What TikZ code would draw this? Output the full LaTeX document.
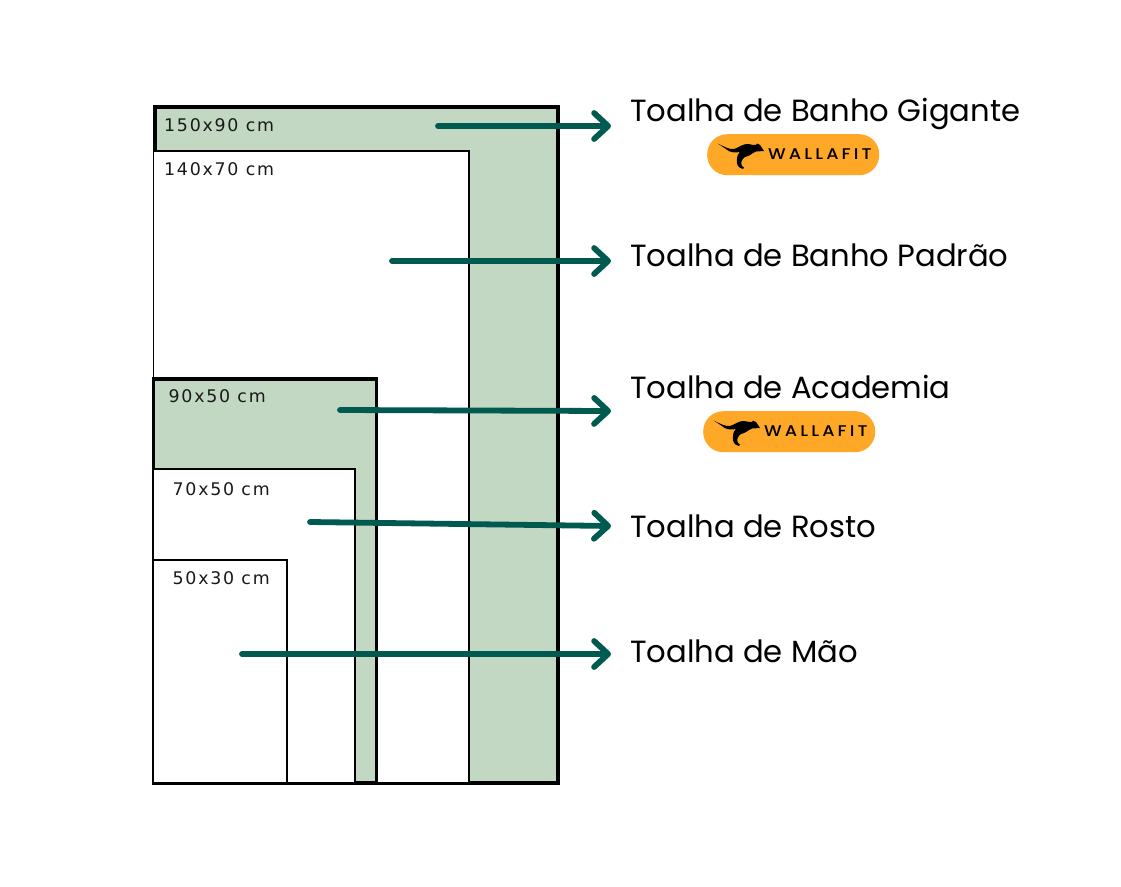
\documentclass[tikz,border=0pt]{standalone}
\usepackage{fontspec}
\setmainfont{Poppins}
\newfontfamily\logofont[LetterSpace=20,FakeStretch=1.14]{Poppins Medium}
\newfontfamily\sizefont[LetterSpace=10]{DejaVu Sans}
\usetikzlibrary{arrows.meta, positioning}

\definecolor{towelgreen}{HTML}{C2D8C2}
\definecolor{arrowteal}{HTML}{005A50}
\definecolor{pillorange}{HTML}{FFA726}

\tikzset{
    towel/.style={draw=black,fill=white,line width=1.9pt,minimum width=#1,inner sep=0pt,outer sep=0pt,anchor=south west},
    heavy/.style={fill=towelgreen,line width=3.6pt},
    sizelabel/.style={font=\sizefont\fontsize{17.4}{20}\selectfont,inner sep=0pt,anchor=base west,text=black!90},
    namelabel/.style={font=\fontsize{30.65}{34}\selectfont,inner sep=0pt,anchor=base west},
    pointer/.style={draw=arrowteal,line width=5.8pt,line cap=round,-{Straight Barb[round,length=14pt,width=26pt]}},
    pill/.style={fill=pillorange,rounded corners=20pt,minimum width=172pt,minimum height=41pt,inner sep=0pt,anchor=north west}
}

\begin{document}
\begin{tikzpicture}[x=1pt,y=-1pt]
    \useasboundingbox (0,0) rectangle (1121,886);

    % towels, largest first
    \node[towel=403pt,heavy,minimum height=676pt] (giant) at (155,783) {};
    \node[towel=315.5pt,minimum height=632pt] (standard) at (153.5,783) {};
    \node[towel=223pt,heavy,minimum height=404pt] (gym) at (153.5,783) {};
    \node[towel=201.5pt,minimum height=314pt] (face) at (153.5,783) {};
    \node[towel=133.5pt,minimum height=223pt] (hand) at (153.5,783) {};

    \node[sizelabel] (giantsize) at (164,131) {150x90 cm};
    \node[sizelabel] (standardsize) at (164,175.5) {140x70 cm};
    \node[sizelabel] (gymsize) at (168.5,402.5) {90x50 cm};
    \node[sizelabel] (facesize) at (172.5,495.5) {70x50 cm};
    \node[sizelabel] (handsize) at (172.5,584.5) {50x30 cm};

    \node[namelabel] (giantname) at (630,121) {Toalha de Banho Gigante};
    \node[namelabel] (standardname) at (630,266) {Toalha de Banho Padrão};
    \node[namelabel] (gymname) at (630,398) {Toalha de Academia};
    \node[namelabel] (facename) at (630,537) {Toalha de Rosto};
    \node[namelabel] (handname) at (630,662) {Toalha de Mão};

    % arrow ends
    \coordinate (giantfrom) at (438,126);
    \coordinate (giantto) at (611,126);
    \coordinate (standardfrom) at (392,261);
    \coordinate (standardto) at (611,261);
    \coordinate (gymfrom) at (340,410);
    \coordinate (gymto) at (611,411);
    \coordinate (facefrom) at (310,522);
    \coordinate (faceto) at (611,526);
    \coordinate (handfrom) at (242,654);
    \coordinate (handto) at (611,654);

    \draw[pointer] (giantfrom) -- (giantto);
    \draw[pointer] (standardfrom) -- (standardto);
    \draw[pointer] (gymfrom) -- (gymto);
    \draw[pointer] (facefrom) -- (faceto);
    \draw[pointer] (handfrom) -- (handto);

    % logos
    \foreach \name/\px/\py in {giantlogo/707/134, gymlogo/703/411} {
        \node[pill] (\name) at (\px,\py) {};
        \fill[shift={(\px,\py)}] (10.5,9.5) .. controls (18,13) and (22,15.5) .. (27,15)
            .. controls (31,14) and (36,9.5) .. (41,10) .. controls (45,10.5) and (47,11.5) .. (49,11)
            -- (50,9.5) -- (53,11) -- (57,17) -- (49,17.5) .. controls (45,19) and (43,22) .. (38,23)
            .. controls (35,25) and (33,29) .. (35,32) -- (37,33.5) -- (36,35) .. controls (31,34) and (29,30) .. (30,25)
            .. controls (30,21) and (32,19) .. (33,18) .. controls (28,19) and (22,18.5) .. (19,15) .. controls (16,13) and (13,11) .. cycle;
        \node[font=\logofont\fontsize{15.5}{18}\selectfont,inner sep=0pt,anchor=west] (\name text) at (\px+61,\py+20.5) {WALLAFIT};
    }
\end{tikzpicture}
\end{document}
